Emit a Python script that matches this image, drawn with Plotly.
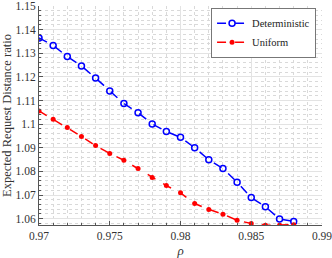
import plotly.graph_objects as go

rho = [0.970, 0.971, 0.972, 0.973, 0.974, 0.975, 0.976, 0.977, 0.978, 0.979,
       0.980, 0.981, 0.982, 0.983, 0.984, 0.985, 0.986, 0.987, 0.988]
deterministic = [1.1365, 1.1333, 1.1286, 1.1246, 1.1195, 1.1140, 1.1087, 1.1048, 1.1001, 1.0969,
                 1.0944, 1.0900, 1.0849, 1.0812, 1.0754, 1.0689, 1.0650, 1.0598, 1.0588]
uniform = [1.1056, 1.1021, 1.0986, 1.0948, 1.0909, 1.0876, 1.0847, 1.0812, 1.0774, 1.0740,
           1.0709, 1.0664, 1.0639, 1.0619, 1.0593, 1.0579, 1.0572, 1.0572, 1.0574]

x_tickvals = [0.97, 0.975, 0.98, 0.985, 0.99]
x_ticktext = ["0.97", "0.975", "0.98", "0.985", "0.99"]
y_tickvals = [1.06, 1.07, 1.08, 1.09, 1.10, 1.11, 1.12, 1.13, 1.14, 1.15]
y_ticktext = ["1.06", "1.07", "1.08", "1.09", "1.1", "1.11", "1.12", "1.13", "1.14", "1.15"]

FONT = "Liberation Serif"

fig = go.Figure()
fig.add_trace(go.Scatter(
    x=rho, y=deterministic, name="Deterministic", mode="lines+markers",
    line=dict(color="#0000ff", width=1.5, dash="dash"),
    marker=dict(symbol="circle-open", size=6, color="#0000ff", line=dict(width=1.5, color="#0000ff")),
))
fig.add_trace(go.Scatter(
    x=rho, y=uniform, name="Uniform", mode="lines+markers",
    line=dict(color="#ff0000", width=1.5, dash="dash"),
    marker=dict(symbol="circle", size=5, color="#ff0000"),
))

axis_common = dict(
    showgrid=True, gridcolor="#e3e3e3", gridwidth=1,
    showline=True, linecolor="#555555", linewidth=1, mirror=False,
    ticks="inside", ticklen=4, tickcolor="#555555",
    tickfont=dict(family=FONT, size=11.5, color="#333333"),
    zeroline=False, automargin=False, ticklabeloverflow="allow",
)

fig.update_layout(
    autosize=False,
    width=332, height=258,
    margin=dict(l=39, r=10, t=6, b=33, pad=0),
    paper_bgcolor="white", plot_bgcolor="white",
    font=dict(family=FONT, color="#333333"),
    showlegend=True,
    legend=dict(
        x=0.979, y=0.992, xanchor="right", yanchor="top",
        bgcolor="white", bordercolor="#777777", borderwidth=1,
        font=dict(family=FONT, size=10.5, color="#222222"),
        itemwidth=30, tracegroupgap=0,
    ),
    xaxis=dict(
        range=[0.97, 0.99],
        tickmode="array", tickvals=x_tickvals, ticktext=x_ticktext,
        minor=dict(dtick=0.001, tick0=0.97, showgrid=True, gridcolor="#d9d9d9",
                   griddash="dot", ticks="inside", ticklen=2, tickcolor="#555555"),
        title=dict(text="<i>ρ</i>", font=dict(family=FONT, size=13, color="#333333"), standoff=9),
        **axis_common,
    ),
    yaxis=dict(
        range=[1.0573, 1.15],
        tickmode="array", tickvals=y_tickvals, ticktext=y_ticktext,
        minor=dict(dtick=0.002, tick0=1.06, showgrid=True, gridcolor="#d9d9d9",
                   griddash="dot", ticks="inside", ticklen=2, tickcolor="#555555"),
        title=dict(text="Expected Request Distance ratio",
                   font=dict(family=FONT, size=12.5, color="#333333"), standoff=6),
        **axis_common,
    ),
)

fig.write_html(
    "out.html",
    config={"displayModeBar": False, "responsive": False},
    default_width="332px", default_height="258px",
    post_script="document.body.style.margin='0';document.body.style.overflow='hidden';",
)
